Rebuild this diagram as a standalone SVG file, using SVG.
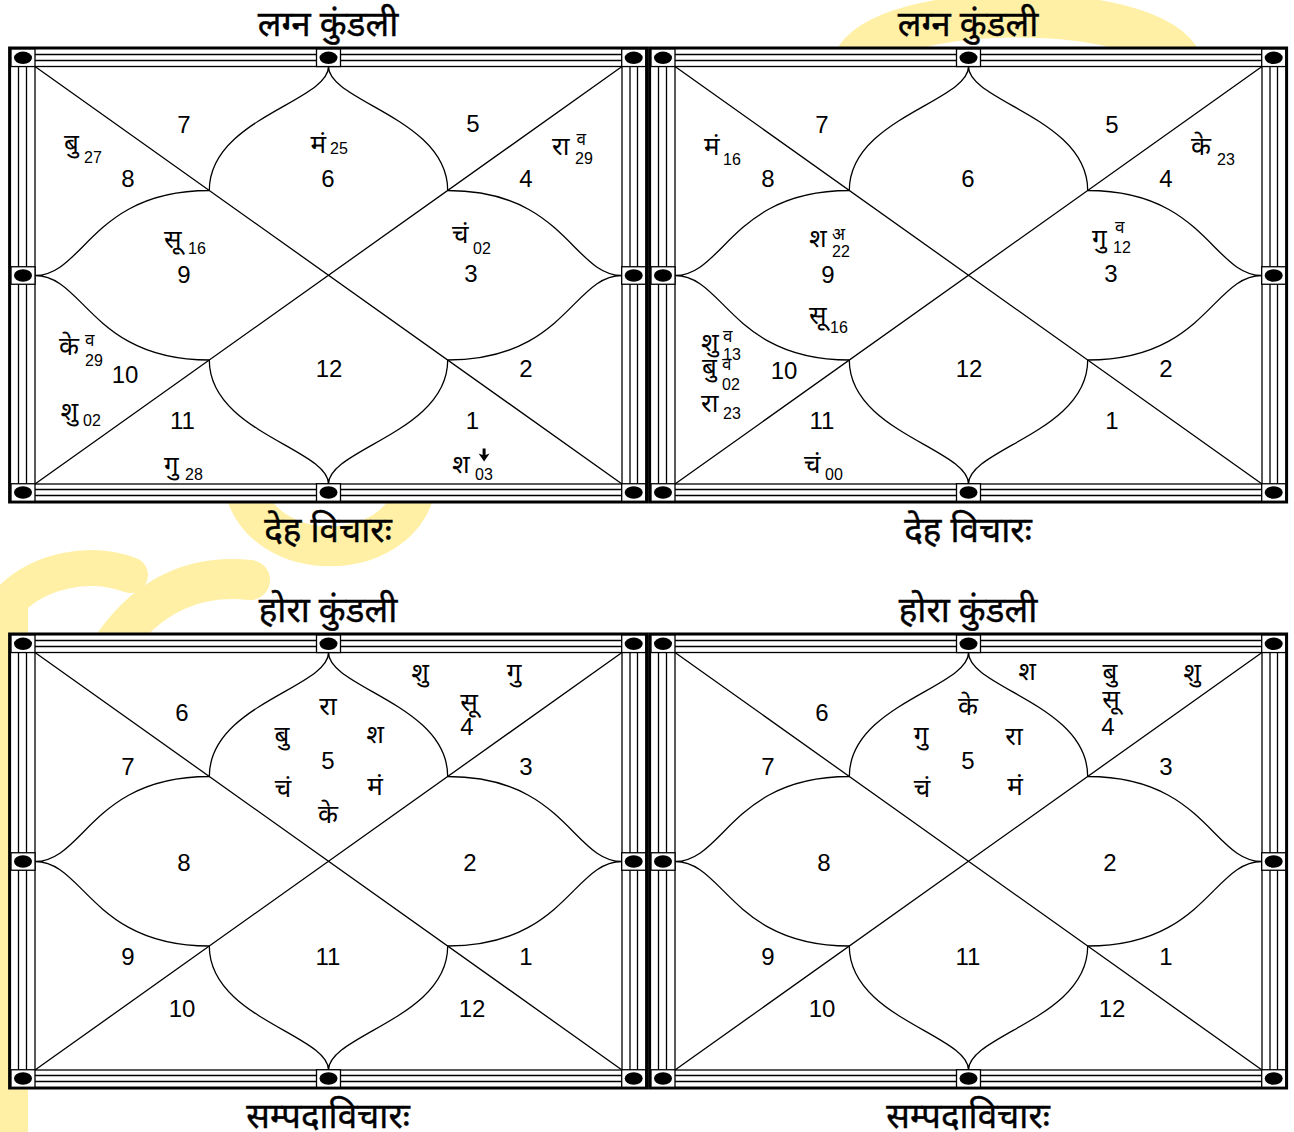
<svg xmlns="http://www.w3.org/2000/svg" xmlns:xlink="http://www.w3.org/1999/xlink" width="1294" height="1132" viewBox="0 0 1294 1132">
<defs>
<style>
.n{font-family:'Liberation Sans',Arial,sans-serif;font-size:24px;text-anchor:middle;fill:#000}
.p{font-family:'Noto Sans','Noto Sans CJK SC',sans-serif;font-size:26px;fill:#000}
.pc{font-family:'Noto Sans','Noto Sans CJK SC',sans-serif;font-size:26px;fill:#000;text-anchor:middle}
.s{font-family:'Liberation Sans',Arial,sans-serif;font-size:16px;fill:#000}
.v{font-family:'Noto Sans','Noto Sans CJK SC',sans-serif;font-size:17px;fill:#000}
.t{font-family:'Noto Sans','Noto Sans CJK SC',sans-serif;font-size:35px;text-anchor:middle;fill:#000;stroke:#000;stroke-width:0.4}
.ln{stroke:#000;stroke-width:1.3;fill:none}
.bx{fill:#fff;stroke:#000;stroke-width:1.3}
.wm{fill:none;stroke:#FFF0A6;stroke-linecap:round}
</style>
<g id="box"><rect class="bx" x="-12" y="-8.75" width="24" height="17.5"/><ellipse cx="0" cy="0" rx="9" ry="6.2" fill="#000"/></g>
<g id="frame">
<rect x="9.6" y="48" width="637" height="454" fill="#fff" stroke="#000" stroke-width="3"/>
<path class="ln" d="M11,54.5H645M11,60.5H645M11,489.5H645M11,495.5H645M18.5,49V501M26.5,49V501M630,49V501M637.5,49V501"/>
<rect class="ln" x="35" y="66.5" width="587" height="417.5"/>
<path class="ln" d="M35,66.5L622,484M622,66.5L35,484"/>
<path class="ln" d="M328.5,66.5C328.5,101.5 209.3,118.5 209.3,190.5M328.5,66.5C328.5,101.5 447.7,118.5 447.7,190.5M328.5,484C328.5,449 209.3,432 209.3,360M328.5,484C328.5,449 447.7,432 447.7,360M35,275.5C84,275.5 92.3,190.5 209.3,190.5M35,275.5C84,275.5 92.3,360 209.3,360M622,275.5C573,275.5 564.7,190.5 447.7,190.5M622,275.5C573,275.5 564.7,360 447.7,360"/>
<use xlink:href="#box" x="23" y="57.8"/>
<use xlink:href="#box" x="328.5" y="57.8"/>
<use xlink:href="#box" x="633.7" y="57.8"/>
<use xlink:href="#box" x="23" y="275.5"/>
<use xlink:href="#box" x="633.7" y="275.5"/>
<use xlink:href="#box" x="23" y="492.5"/>
<use xlink:href="#box" x="328.5" y="492.5"/>
<use xlink:href="#box" x="633.7" y="492.5"/>
</g>
</defs>
<rect width="1294" height="1132" fill="#fff"/>
<g id="watermark">
<path class="wm" stroke-width="40" d="M245,490 C265,565 395,565 415,490"/>
<path class="wm" stroke-width="36" d="M10,1140 L10,600 C40,570 90,560 130,575"/>
<path class="wm" stroke-width="40" d="M110,650 C150,590 200,575 250,580"/>
<path class="wm" stroke-width="44" d="M855,62 C885,0 1150,0 1180,62"/>
</g>
<g id="chart-lagna-1">
<use xlink:href="#frame"/>
<text class="t" x="328" y="36">लग्न कुंडली</text>
<text class="t" x="328" y="542">देह विचारः</text>
<text class="n" x="184" y="132.5">7</text><text class="n" x="473" y="132">5</text>
<text class="n" x="128" y="186.7">8</text><text class="n" x="328" y="186.7">6</text><text class="n" x="526" y="186.5">4</text>
<text class="n" x="184" y="282.5">9</text><text class="n" x="471" y="282">3</text>
<text class="n" x="125" y="382.5">10</text><text class="n" x="329" y="377">12</text><text class="n" x="526" y="377">2</text>
<text class="n" x="182.5" y="428.5">11</text><text class="n" x="472.5" y="428.5">1</text>
<text class="p" x="64" y="152">बु</text><text class="s" x="84" y="163">27</text>
<text class="p" x="310.5" y="153">मं</text><text class="s" x="330" y="154">25</text>
<text class="p" x="552" y="155">रा</text><text class="v" x="576.5" y="145">व</text><text class="s" x="575" y="164">29</text>
<text class="p" x="164" y="248">सू</text><text class="s" x="188" y="254">16</text>
<text class="p" x="452" y="243">चं</text><text class="s" x="473" y="254">02</text>
<text class="p" x="59" y="355">के</text><text class="v" x="85" y="346">व</text><text class="s" x="85" y="366">29</text>
<text class="p" x="60.5" y="420">शु</text><text class="s" x="83" y="426">02</text>
<text class="p" x="164" y="474">गु</text><text class="s" x="185" y="480">28</text>
<text class="p" x="452" y="473">श</text><text class="s" x="475" y="480">03</text>
<path d="M482.6,448.5h3v6.5l4-1.5-5.5,8-5.5-8,4,1.5z" fill="#000"/>
</g>
<g id="chart-lagna-2">
<use xlink:href="#frame" x="640"/>
<text class="t" x="968" y="36">लग्न कुंडली</text>
<text class="t" x="968" y="542">देह विचारः</text>
<text class="n" x="822" y="132.5">7</text><text class="n" x="1112" y="132.5">5</text>
<text class="n" x="768" y="186.7">8</text><text class="n" x="968" y="186.7">6</text><text class="n" x="1166" y="186.5">4</text>
<text class="n" x="828" y="282.5">9</text><text class="n" x="1111" y="282">3</text>
<text class="n" x="784" y="378.5">10</text><text class="n" x="969" y="377">12</text><text class="n" x="1166" y="377">2</text>
<text class="n" x="822" y="428.5">11</text><text class="n" x="1112" y="428.5">1</text>
<text class="p" x="704" y="155">मं</text><text class="s" x="723" y="165">16</text>
<text class="p" x="809" y="247">श</text><text class="v" x="832" y="240">अ</text><text class="s" x="832" y="257">22</text>
<text class="p" x="809" y="324">सू</text><text class="s" x="830" y="333">16</text>
<text class="p" x="701" y="351">शु</text><text class="v" x="723" y="342">व</text><text class="s" x="723" y="360">13</text>
<text class="p" x="702" y="376">बु</text><text class="v" x="722" y="370">व</text><text class="s" x="722" y="390">02</text>
<text class="p" x="701" y="412">रा</text><text class="s" x="723" y="419">23</text>
<text class="p" x="804" y="473">चं</text><text class="s" x="825" y="480">00</text>
<text class="p" x="1191" y="155">के</text><text class="s" x="1217" y="165">23</text>
<text class="p" x="1092" y="247">गु</text><text class="v" x="1115" y="233">व</text><text class="s" x="1113" y="253">12</text>
</g>
<g id="chart-hora-1">
<use xlink:href="#frame" y="586"/>
<text class="t" x="328" y="622">होरा कुंडली</text>
<text class="t" x="328" y="1128">सम्पदाविचारः</text>
<text class="n" x="182" y="720.5">6</text><text class="n" x="128" y="774.5">7</text><text class="n" x="526" y="774.5">3</text>
<text class="n" x="328" y="768.5">5</text><text class="n" x="467" y="734.5">4</text>
<text class="n" x="184" y="870.5">8</text><text class="n" x="470" y="870.5">2</text>
<text class="n" x="128" y="964.5">9</text><text class="n" x="328" y="964.5">11</text><text class="n" x="526" y="964.5">1</text>
<text class="n" x="182" y="1016.5">10</text><text class="n" x="472" y="1016.5">12</text>
<text class="pc" x="420" y="681">शु</text><text class="pc" x="514" y="681">गु</text>
<text class="pc" x="328" y="715">रा</text><text class="pc" x="469" y="711">सू</text>
<text class="pc" x="282" y="744">बु</text><text class="pc" x="375" y="743">श</text>
<text class="pc" x="283" y="797">चं</text><text class="pc" x="375" y="795">मं</text>
<text class="pc" x="328" y="823">के</text>
</g>
<g id="chart-hora-2">
<use xlink:href="#frame" x="640" y="586"/>
<text class="t" x="968" y="622">होरा कुंडली</text>
<text class="t" x="968" y="1128">सम्पदाविचारः</text>
<text class="n" x="822" y="720.5">6</text><text class="n" x="768" y="774.5">7</text><text class="n" x="1166" y="774.5">3</text>
<text class="n" x="968" y="768.5">5</text><text class="n" x="1108" y="734.5">4</text>
<text class="n" x="824" y="870.5">8</text><text class="n" x="1110" y="870.5">2</text>
<text class="n" x="768" y="964.5">9</text><text class="n" x="968" y="964.5">11</text><text class="n" x="1166" y="964.5">1</text>
<text class="n" x="822" y="1016.5">10</text><text class="n" x="1112" y="1016.5">12</text>
<text class="pc" x="1027" y="680">श</text><text class="pc" x="1110" y="681">बु</text>
<text class="pc" x="1111" y="708">सू</text><text class="pc" x="1192" y="681">शु</text>
<text class="pc" x="968" y="715">के</text>
<text class="pc" x="921" y="744">गु</text><text class="pc" x="1014" y="745">रा</text>
<text class="pc" x="922" y="797">चं</text><text class="pc" x="1015" y="795">मं</text>
</g>
</svg>
